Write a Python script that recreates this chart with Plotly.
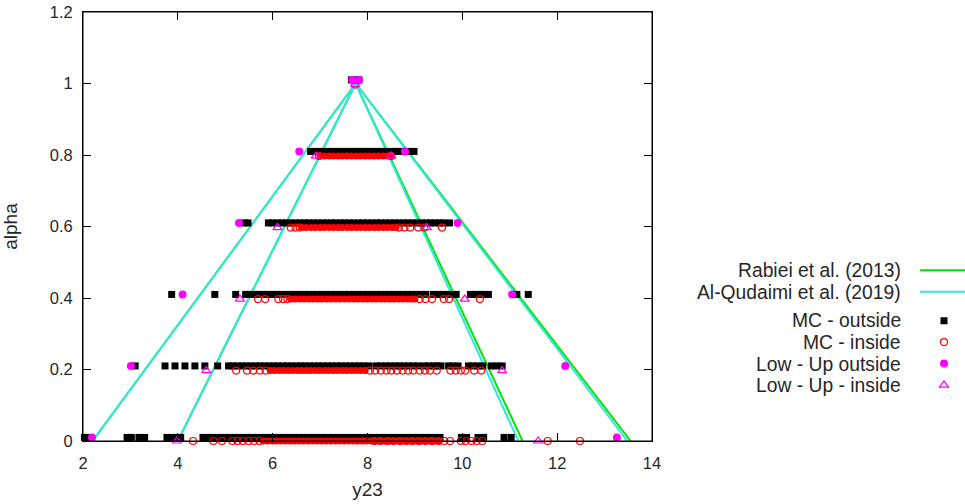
import plotly.graph_objects as go

# ---------------- data ----------------
alpha_levels = [0.0, 0.2, 0.4, 0.6, 0.8, 1.0]

# fuzzy-number envelopes (alpha = 0 -> 1 -> 0)
tri_alpha = [0.0, 1.0, 0.0]
rabiei_outer = [2.20, 7.75, 13.55]
rabiei_inner = [4.00, 7.75, 11.27]
qudaimi_outer = [2.20, 7.75, 13.48]
qudaimi_inner = [4.00, 7.75, 11.18]

# MC - outside (black squares), one list per alpha level
mc_out_a00 = [2.03, 2.12, 2.93, 3.02, 3.18, 3.30, 3.77, 3.87, 3.98, 4.06, 4.53, 4.63,
              4.73, 4.82, 4.91, 5.01, 5.10, 5.20, 5.29, 5.39, 5.48, 5.58, 5.67, 5.77,
              5.86, 5.96, 6.05, 6.15, 6.24, 6.34, 6.43, 6.53, 6.62, 6.72, 6.81, 6.91,
              7.00, 7.10, 7.19, 7.29, 7.38, 7.48, 7.57, 7.67, 7.76, 7.86, 7.95, 8.04,
              8.17, 8.26, 8.36, 8.47, 8.56, 8.66, 8.75, 8.86, 8.96, 9.05, 9.15, 9.24,
              9.34, 9.43, 9.53, 9.98, 10.09, 10.33, 10.45, 10.88, 11.03]
mc_out_a02 = [3.10, 3.73, 3.94, 4.15, 4.36, 4.57, 4.84,
              5.07, 5.16, 5.26, 5.35, 5.45, 5.54, 5.64, 5.73, 5.83, 5.92, 6.02, 6.11,
              6.21, 6.30, 6.40, 6.49, 6.59, 6.68, 6.78, 6.87, 6.97, 7.06, 7.16, 7.25,
              7.35, 7.44, 7.54, 7.63, 7.73, 7.82, 7.92, 8.03,
              8.18, 8.28, 8.38, 8.48, 8.58, 8.67, 8.77, 8.87, 8.97, 9.06, 9.19, 9.29,
              9.39, 9.47, 9.55, 9.71, 9.80, 9.91, 10.13, 10.23, 10.33, 10.43, 10.61,
              10.72, 10.84]
mc_out_a04 = [3.87, 4.78, 5.22, 5.43, 5.52, 5.62, 5.71, 5.81, 5.90, 6.00, 6.09, 6.19,
              6.28, 6.38, 6.47, 6.57, 6.66, 6.76, 6.85, 6.95, 7.04, 7.14, 7.23, 7.33,
              7.42, 7.52, 7.61, 7.71, 7.80, 7.90, 7.99, 8.09, 8.18, 8.28, 8.37, 8.47,
              8.56, 8.66, 8.75, 8.85, 8.94, 9.04, 9.13, 9.23, 9.39, 9.49, 9.59, 9.69,
              9.78, 9.87, 10.17, 10.27, 10.37, 10.46, 10.55, 11.15, 11.39]
mc_out_a06 = [5.40, 5.48, 5.91, 6.00, 6.10, 6.19, 6.29, 6.38, 6.48, 6.57, 6.67, 6.76,
              6.86, 6.95, 7.05, 7.14, 7.24, 7.33, 7.43, 7.52, 7.62, 7.71, 7.81, 7.90,
              8.00, 8.09, 8.19, 8.28, 8.38, 8.47, 8.57, 8.66, 8.76, 8.85, 8.95, 9.04,
              9.14, 9.23, 9.33, 9.42, 9.52, 9.60, 9.73]
mc_out_a08 = [6.80, 6.89, 6.99, 7.08, 7.18, 7.27, 7.37, 7.46, 7.56, 7.65, 7.75, 7.84,
              7.94, 8.03, 8.13, 8.22, 8.32, 8.41, 8.51, 8.60, 8.70, 8.79, 8.89, 8.98]
mc_out_a10 = [7.66, 7.74, 7.82]

# MC - inside (red circles): sparse samples
mc_in_a00 = [4.32, 4.75, 4.93, 5.15, 5.26, 5.37, 5.49, 5.61, 5.72, 8.14, 8.27, 8.42,
             8.55, 8.68, 8.82, 8.95, 9.09, 9.22, 9.36, 9.50, 9.62, 9.74, 9.97, 10.07,
             10.19, 10.30, 10.42, 11.80, 12.48]
mc_in_a02 = [5.23, 5.46, 5.59, 5.73, 5.85, 8.05, 8.16, 8.28, 8.40, 8.50, 8.62, 8.74,
             8.86, 8.96, 9.10, 9.21, 9.32, 9.46, 9.75, 9.86, 9.97, 10.06, 10.25, 10.40]
mc_in_a04 = [5.69, 5.84, 6.12, 6.22, 6.31, 9.10, 9.22, 9.36, 9.61, 9.72, 10.37]
mc_in_a06 = [6.38, 6.48, 6.57, 8.66, 8.78, 8.90, 9.07, 9.20, 9.57]
mc_in_a08 = [6.98, 8.50]
mc_in_a10 = [7.74]

# MC - inside: densely sampled core of each alpha cut
mc_core_a00 = [5.80, 5.89, 5.99, 6.08, 6.18, 6.27, 6.37, 6.46, 6.56, 6.65, 6.75, 6.84,
               6.94, 7.03, 7.13, 7.22, 7.32, 7.41, 7.51, 7.60, 7.70, 7.79, 7.89, 7.98,
               8.08, 8.17, 8.27, 8.36, 8.46, 8.55, 8.65, 8.74, 8.84, 8.93, 9.03, 9.12,
               9.22, 9.31, 9.41, 9.50]
mc_core_a02 = [5.95, 6.04, 6.14, 6.23, 6.33, 6.42, 6.52, 6.61, 6.71, 6.80, 6.90, 6.99,
               7.09, 7.18, 7.28, 7.37, 7.47, 7.56, 7.66, 7.75, 7.85, 7.95]
mc_core_a04 = [6.38, 6.47, 6.57, 6.66, 6.76, 6.85, 6.95, 7.04, 7.14, 7.23, 7.33, 7.42,
               7.52, 7.61, 7.71, 7.80, 7.90, 7.99, 8.09, 8.18, 8.28, 8.37, 8.47, 8.56,
               8.66, 8.75, 8.85, 8.94, 9.00]
mc_core_a06 = [6.62, 6.71, 6.81, 6.90, 7.00, 7.09, 7.19, 7.28, 7.38, 7.47, 7.57, 7.66,
               7.76, 7.85, 7.95, 8.04, 8.14, 8.23, 8.33, 8.42, 8.52, 8.60]
mc_core_a08 = [7.00, 7.09, 7.19, 7.28, 7.38, 7.47, 7.57, 7.66, 7.76, 7.85, 7.95, 8.04,
               8.14, 8.23, 8.33, 8.42, 8.48]
mc_core_a10 = []

# Low - Up bounds
lu_out_x = [2.19, 13.26, 3.01, 12.17, 4.10, 11.05, 5.29, 9.90, 6.56, 8.79, 7.68, 7.82]
lu_out_alpha = [0.0, 0.0, 0.2, 0.2, 0.4, 0.4, 0.6, 0.6, 0.8, 0.8, 1.0, 1.0]
lu_in_x = [3.98, 11.60, 4.60, 10.84, 5.31, 10.05, 6.10, 9.25, 6.91, 8.50, 7.74]
lu_in_alpha = [0.0, 0.0, 0.2, 0.2, 0.4, 0.4, 0.6, 0.6, 0.8, 0.8, 1.0]

legend_labels = ["Rabiei et al. (2013)", "Al-Qudaimi et al. (2019)",
                 "MC - outside", "MC - inside", "Low - Up outside", "Low - Up - inside"]

# ---------------- build ----------------
OUT_SHIFT = 0.010   # small vertical separation between outside / inside samples
IN_SHIFT = -0.003

def shifted(a, s):
    return max(0.0, a + s)

def flatten(levels, lists, shift):
    xs, ys = [], []
    for a, lst in zip(levels, lists):
        xs += lst
        ys += [shifted(a, shift)] * len(lst)
    return xs, ys

mc_out_x, mc_out_y = flatten(alpha_levels, [mc_out_a00, mc_out_a02, mc_out_a04,
                                            mc_out_a06, mc_out_a08, mc_out_a10], OUT_SHIFT)
mc_in_x, mc_in_y = flatten(alpha_levels, [mc_in_a00, mc_in_a02, mc_in_a04,
                                          mc_in_a06, mc_in_a08, mc_in_a10], IN_SHIFT)
mc_core_x, mc_core_y = flatten(alpha_levels, [mc_core_a00, mc_core_a02, mc_core_a04,
                                              mc_core_a06, mc_core_a08, mc_core_a10], IN_SHIFT)

GREEN = "#00e600"
CYAN = "#33e6e0"

fig = go.Figure()
fig.add_trace(go.Scatter(x=rabiei_outer + [None] + rabiei_inner,
                         y=tri_alpha + [None] + tri_alpha,
                         mode="lines", line=dict(color=GREEN, width=2),
                         name="", legendgroup="lines", hoverinfo="skip"))
fig.add_trace(go.Scatter(x=qudaimi_outer + [None] + qudaimi_inner,
                         y=tri_alpha + [None] + tri_alpha,
                         mode="lines", line=dict(color=CYAN, width=2),
                         name="", legendgroup="lines", hoverinfo="skip"))
fig.add_trace(go.Scatter(x=mc_out_x, y=mc_out_y, mode="markers",
                         marker=dict(symbol="square", size=7, color="black"),
                         name="", legendgroup="pts", cliponaxis=False))
fig.add_trace(go.Scatter(x=mc_core_x, y=mc_core_y, mode="markers",
                         marker=dict(symbol="circle", size=7, color="#ff0000"),
                         showlegend=False, legendgroup="pts", cliponaxis=False))
fig.add_trace(go.Scatter(x=mc_in_x, y=mc_in_y, mode="markers",
                         marker=dict(symbol="circle-open", size=7, color="#ff0000",
                                     line=dict(width=1.2)),
                         name="", legendgroup="pts", cliponaxis=False))
fig.add_trace(go.Scatter(x=lu_out_x, y=[shifted(a, OUT_SHIFT) for a in lu_out_alpha],
                         mode="markers",
                         marker=dict(symbol="circle", size=8, color="#ff00ff"),
                         name="", legendgroup="pts", cliponaxis=False))
fig.add_trace(go.Scatter(x=lu_in_x, y=[shifted(a, IN_SHIFT) for a in lu_in_alpha],
                         mode="markers",
                         marker=dict(symbol="triangle-up-open", size=8, color="#ff00ff",
                                     line=dict(width=1.2)),
                         name="", legendgroup="pts", cliponaxis=False))

FIG_W, FIG_H = 965, 504
PLOT_L, PLOT_R, PLOT_T, PLOT_B = 83, 652, 12, 441   # plot box in pixels

def px_to_paper_x(px):
    return (px - PLOT_L) / (PLOT_R - PLOT_L)
def px_to_paper_y(py):
    return (PLOT_B - py) / (PLOT_B - PLOT_T)

label_y_px = [270, 292, 321, 342.5, 364, 385.5]
for txt, ypx in zip(legend_labels, label_y_px):
    fig.add_annotation(text=txt, x=px_to_paper_x(903), y=px_to_paper_y(ypx),
                       xref="paper", yref="paper", xanchor="right", yanchor="middle",
                       showarrow=False, font=dict(size=19.3, color="#262626"))

# frame around the plotting area (gnuplot-style border)
fig.add_shape(type="rect", xref="paper", yref="paper", x0=0, x1=1, y0=0, y1=1,
              line=dict(color="black", width=1), fillcolor="rgba(0,0,0,0)", layer="above")

axis_common = dict(showgrid=False, zeroline=False, showline=True, linecolor="black",
                   linewidth=1, mirror="ticks", ticks="inside", ticklen=8,
                   tickcolor="black", tickfont=dict(size=16.5, color="#262626"),
                   ticklabeloverflow="allow")

fig.update_layout(
    width=FIG_W, height=FIG_H, autosize=False,
    margin=dict(l=PLOT_L, r=FIG_W - PLOT_R, t=PLOT_T, b=FIG_H - PLOT_B, autoexpand=False),
    paper_bgcolor="white", plot_bgcolor="white",
    font=dict(family="Liberation Sans, Arial, sans-serif", color="#262626"),
    xaxis=dict(range=[2, 14], tickvals=[2, 4, 6, 8, 10, 12, 14], ticklabelstandoff=7,
               title=dict(text="y23", font=dict(size=19), standoff=11), **axis_common),
    yaxis=dict(range=[0, 1.2], tickvals=[0, 0.2, 0.4, 0.6, 0.8, 1.0, 1.2],
               ticktext=["0", "0.2", "0.4", "0.6", "0.8", "1", "1.2"], ticklabelstandoff=6,
               title=dict(text="alpha", font=dict(size=19), standoff=30), **axis_common),
    showlegend=True,
    legend=dict(x=px_to_paper_x(915), y=px_to_paper_y(254.5), xanchor="left", yanchor="top",
                itemwidth=48, font=dict(size=14.2), tracegroupgap=7.5,
                traceorder="grouped", bgcolor="rgba(0,0,0,0)", borderwidth=0,
                itemclick=False, itemdoubleclick=False),
    hovermode=False,
)

# remove the default page margin so the figure sits at the window origin
fig.write_html("out.html", config={"displayModeBar": False},
               post_script="document.body.style.margin='0px';document.body.style.overflow='hidden';")
